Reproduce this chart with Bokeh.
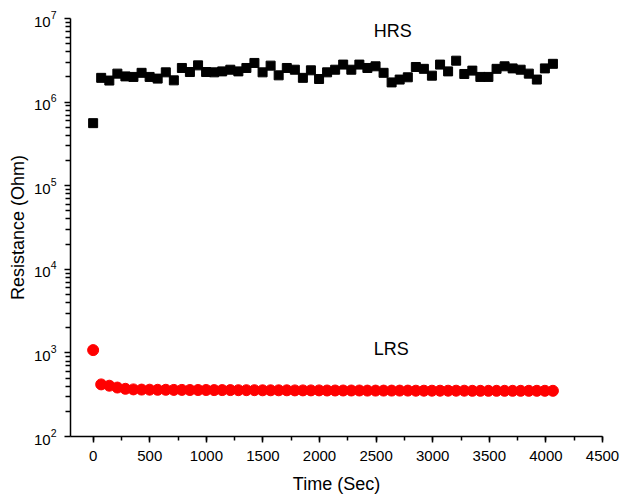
from bokeh.plotting import figure
from bokeh.models import Range1d, SingleIntervalTicker, FixedTicker, Label
from bokeh.embed import file_html
from bokeh.resources import INLINE

# Time points (s)
time_s = [0, 71, 143, 214, 285, 356, 428, 499, 570, 642, 713, 784, 855, 927, 998,
          1069, 1140, 1212, 1283, 1354, 1425, 1497, 1568, 1639, 1711, 1782, 1853,
          1924, 1996, 2067, 2138, 2209, 2281, 2352, 2423, 2495, 2566, 2637, 2708,
          2780, 2851, 2922, 2993, 3065, 3136, 3207, 3279, 3350, 3421, 3492, 3564,
          3635, 3706, 3777, 3849, 3920, 3991, 4062]

hrs_ohm = [5.6e5, 1.95e6, 1.81e6, 2.19e6, 2.03e6, 2.0e6, 2.24e6, 2.0e6, 1.91e6,
           2.27e6, 1.82e6, 2.56e6, 2.29e6, 2.75e6, 2.29e6, 2.27e6, 2.33e6, 2.44e6,
           2.33e6, 2.56e6, 2.94e6, 2.27e6, 2.73e6, 2.09e6, 2.56e6, 2.44e6, 1.95e6,
           2.40e6, 1.89e6, 2.27e6, 2.44e6, 2.81e6, 2.44e6, 2.81e6, 2.56e6, 2.68e6,
           2.24e6, 1.72e6, 1.86e6, 1.98e6, 2.63e6, 2.50e6, 2.07e6, 2.81e6, 2.33e6,
           3.13e6, 2.17e6, 2.38e6, 2.0e6, 2.0e6, 2.50e6, 2.68e6, 2.53e6, 2.44e6,
           2.19e6, 1.86e6, 2.53e6, 2.87e6]

lrs_ohm = [1080, 420, 405, 385, 372, 366, 364, 363, 362, 362, 361, 361, 360, 360,
           360, 359, 359, 359, 358, 358, 358, 357, 357, 357, 357, 356, 356, 356,
           356, 355, 355, 355, 355, 355, 354, 354, 354, 354, 354, 354, 353, 353,
           353, 353, 353, 353, 353, 352, 352, 352, 352, 352, 352, 352, 352, 352,
           352, 352]

y_major = [1e2, 1e3, 1e4, 1e5, 1e6, 1e7]

FONT = "Liberation Sans"

p = figure(width=620, height=496, y_axis_type="log",
           x_range=Range1d(-200, 4500), y_range=Range1d(1e2, 1e7),
           output_backend="svg", toolbar_location=None,
           min_border_left=70, min_border_top=18, min_border_right=18,
           min_border_bottom=60)
p.outline_line_color = None
p.xgrid.visible = False
p.ygrid.visible = False

p.scatter(time_s, hrs_ohm, marker="square", size=9, color="black")
p.scatter(time_s, lrs_ohm, marker="circle", size=11, color="#FF0000")

p.add_layout(Label(x=2480, y=7.0e6, text="HRS", text_font=FONT,
                   text_font_size="18px", text_baseline="middle",
                   text_color="black"))
p.add_layout(Label(x=2480, y=1.1e3, text="LRS", text_font=FONT,
                   text_font_size="18px", text_baseline="middle",
                   text_color="black"))

p.xaxis.ticker = SingleIntervalTicker(interval=500, num_minor_ticks=2)
y_minor = [m * d for d in y_major[:-1] for m in range(2, 10)]
p.yaxis.ticker = FixedTicker(ticks=y_major, minor_ticks=y_minor)

for ax in (p.xaxis[0], p.yaxis[0]):
    ax.axis_line_width = 1.5
    ax.axis_line_color = "black"
    ax.major_tick_line_width = 1.5
    ax.minor_tick_line_width = 1.5
    ax.major_tick_line_color = "black"
    ax.minor_tick_line_color = "black"
    ax.major_tick_in = 0
    ax.major_tick_out = 6
    ax.minor_tick_in = 0
    ax.minor_tick_out = 5
    ax.major_label_text_font = FONT
    ax.major_label_text_font_size = "15px"
    ax.major_label_text_color = "black"
    ax.axis_label_text_font = FONT
    ax.axis_label_text_font_size = "18px"
    ax.axis_label_text_font_style = "normal"
    ax.axis_label_text_color = "black"

p.xaxis.minor_tick_out = 4
p.xaxis.axis_label = "Time (Sec)"
p.yaxis.axis_label = "Resistance (Ohm)"
p.xaxis.major_label_standoff = 8
p.yaxis.major_label_standoff = 8
p.xaxis.axis_label_standoff = 10
p.yaxis.axis_label_standoff = 3

open("out.html", "w").write(file_html(p, INLINE))
